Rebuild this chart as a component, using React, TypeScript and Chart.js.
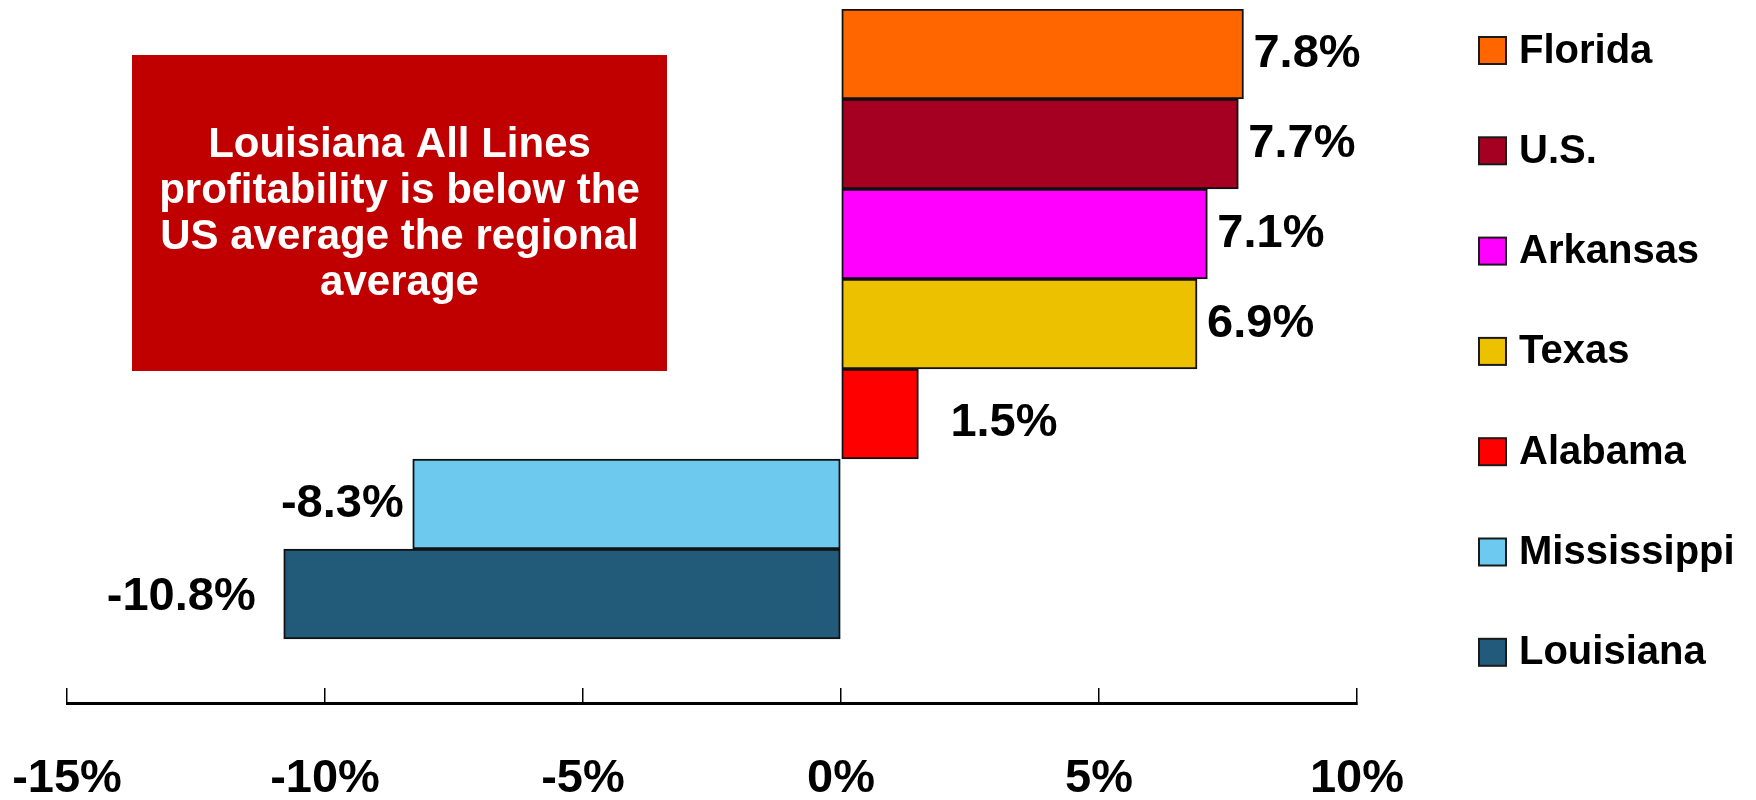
import React, { useEffect, useRef } from "react";
import { Chart, registerables } from "chart.js";

Chart.register(...registerables);

// ---------- data ----------
const categories = ["Florida", "U.S.", "Arkansas", "Texas", "Alabama", "Mississippi", "Louisiana"];
const values = [7.8, 7.7, 7.1, 6.9, 1.5, -8.3, -10.8];
const barColors = ["#FF6600", "#A50021", "#FF00FF", "#ECC200", "#FF0000", "#6DCAEE", "#225A79"];
const xTickValues = [-15, -10, -5, 0, 5, 10];
const calloutLines = [
  "Louisiana All Lines",
  "profitability is below the",
  "US average the regional",
  "average",
];

// ---------- style ----------
const FONT = '"Liberation Sans", Arial, Helvetica, sans-serif';
const W = 1756;
const H = 800;
const labelNudge: Record<string, [number, number]> = {
  Alabama: [22, 9],
  Louisiana: [19, 3],
};

const fmt = (v: number) => `${v.toFixed(1)}%`;

const overlayPlugin = {
  id: "overlay",
  afterDatasetsDraw(chart: any) {
    const ctx: CanvasRenderingContext2D = chart.ctx;
    const meta = chart.getDatasetMeta(0);
    ctx.save();
    // value labels
    ctx.font = `bold 47px ${FONT}`;
    ctx.fillStyle = "#000";
    ctx.textBaseline = "middle";
    meta.data.forEach((el: any, i: number) => {
      const { x, y } = el.getProps(["x", "y"], true);
      const v = values[i];
      const n = labelNudge[categories[i]] || [0, 0];
      if (v >= 0) {
        ctx.textAlign = "left";
        ctx.fillText(fmt(v), x + 10 + n[0], y + n[1]);
      } else {
        ctx.textAlign = "right";
        ctx.fillText(fmt(v), x - 9 - n[0], y + n[1]);
      }
    });

    // legend
    const lx = chart.chartArea.right + 122;
    const top0 = 37;
    const step = 100.3;
    const box = 27;
    ctx.font = `bold 40px ${FONT}`;
    ctx.textAlign = "left";
    ctx.textBaseline = "middle";
    categories.forEach((c, i) => {
      const by = top0 + i * step;
      ctx.fillStyle = barColors[i];
      ctx.fillRect(lx, by, box, box);
      ctx.lineWidth = 2;
      ctx.strokeStyle = "#1a1a1a";
      ctx.strokeRect(lx, by, box, box);
      ctx.fillStyle = "#000";
      ctx.fillText(c, lx + box + 13, by + box / 2 + 1);
    });

    // callout box
    const bx = 132, byTop = 55, bw = 535, bh = 316;
    ctx.fillStyle = "#C00000";
    ctx.fillRect(bx, byTop, bw, bh);
    ctx.fillStyle = "#FFFFFF";
    ctx.font = `bold 42px ${FONT}`;
    ctx.textAlign = "center";
    ctx.textBaseline = "alphabetic";
    calloutLines.forEach((line, i) => {
      ctx.fillText(line, bx + bw / 2, 157 + i * 46);
    });
    ctx.restore();
  },
};

export default function App() {
  const canvasRef = useRef<HTMLCanvasElement | null>(null);

  useEffect(() => {
    const canvas = canvasRef.current;
    if (!canvas) return;
    const chart = new Chart(canvas, {
      type: "bar",
      data: {
        datasets: [
          {
            label: "All Lines",
            data: values.map((v, i) => ({ x: v, y: i })) as any,
            backgroundColor: barColors,
            borderColor: "#111111",
            borderWidth: 2,
            borderSkipped: false,
            barPercentage: 1,
            categoryPercentage: 1,
          },
        ],
      },
      options: {
        indexAxis: "y",
        animation: false,
        responsive: true,
        maintainAspectRatio: false,
        layout: { padding: { left: 67, top: 9, right: 399, bottom: 0 } },
        plugins: {
          legend: { display: false },
          tooltip: { enabled: false },
          title: { display: false },
        },
        scales: {
          x: {
            type: "linear",
            position: "bottom",
            min: -15,
            max: 10,
            afterBuildTicks: (scale: any) => {
              scale.ticks = xTickValues.map((v) => ({ value: v }));
            },
            afterFit: (scale: any) => {
              scale.height = 97;
              scale.paddingLeft = 0;
              scale.paddingRight = 0;
            },
            ticks: {
              callback: (v: any) => `${v}%`,
              color: "#000",
              font: { family: FONT, size: 47, weight: "bold", lineHeight: 1 },
              padding: 68,
              maxRotation: 0,
              autoSkip: false,
            },
            grid: {
              drawOnChartArea: false,
              drawTicks: true,
              tickLength: -15,
              color: "#000",
              lineWidth: 1.5,
            },
            border: { display: true, color: "#000", width: 3 },
          },
          y: {
            type: "linear",
            display: false,
            reverse: true,
            offset: false,
            min: -0.5,
            max: 7.211,
            afterBuildTicks: (scale: any) => {
              scale.ticks = categories.map((_, i) => ({ value: i }));
            },
          },
        },
      },
      plugins: [overlayPlugin],
    });
    return () => chart.destroy();
  }, []);

  return (
    <div style={{ position: "absolute", left: 0, top: 0, width: W, height: H, background: "#fff" }}>
      <canvas ref={canvasRef} />
    </div>
  );
}
